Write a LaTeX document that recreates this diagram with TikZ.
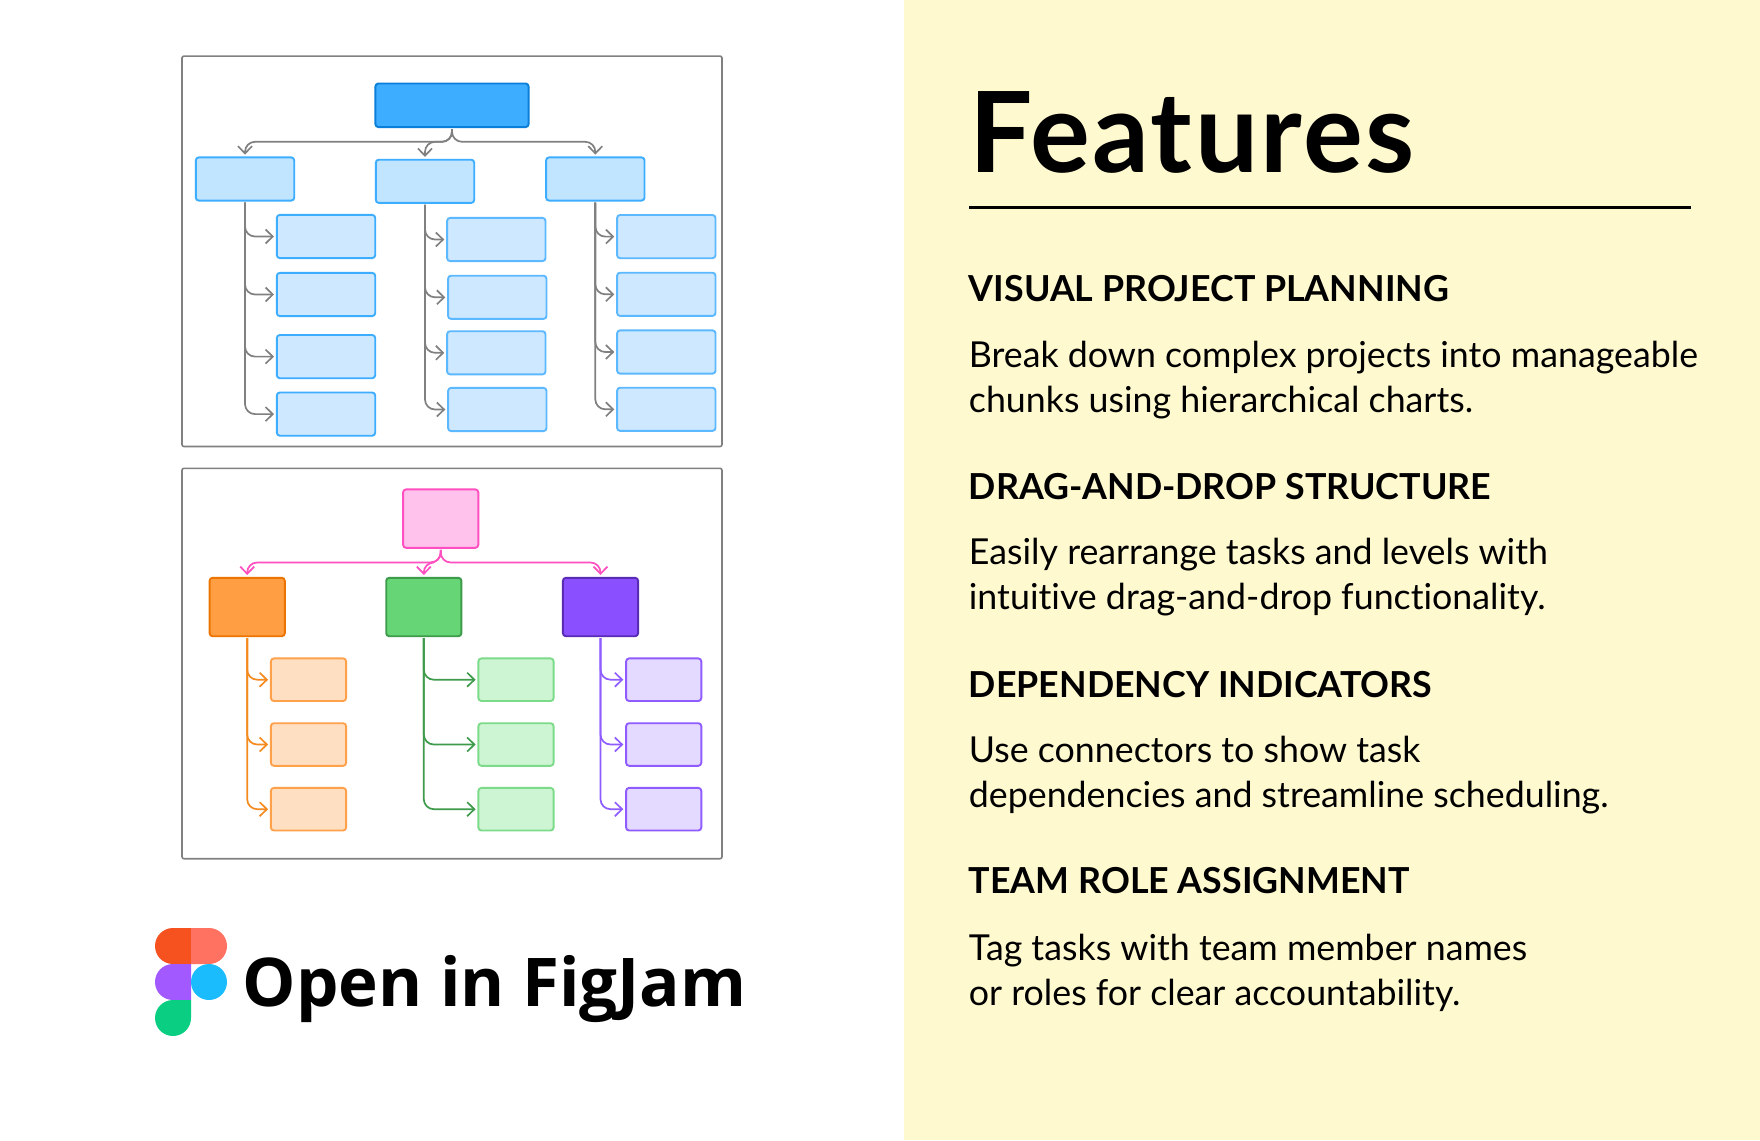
\documentclass[tikz,border=0pt]{standalone}
\usepackage{fontspec}
\setmainfont[Ligatures=NoCommon]{Lato}
\newfontfamily\logofont{Open Sans}
\newfontfamily\titlefont[LetterSpace=2.2]{Lato}
\usetikzlibrary{arrows.meta}
\definecolor{panelbg}{HTML}{FFF9D0}
\definecolor{framegray}{HTML}{808080}
\definecolor{blueroot}{HTML}{3DADFF}
\definecolor{blueedge}{HTML}{0A7FD9}
\definecolor{bluemid}{HTML}{C2E5FF}
\definecolor{bluelight}{HTML}{CDE8FF}
\definecolor{bluethin}{HTML}{5CB8FF}
\definecolor{pinkfill}{HTML}{FFC2EC}
\definecolor{pinkedge}{HTML}{FF4FC0}
\definecolor{orangefill}{HTML}{FF9E42}
\definecolor{orangeedge}{HTML}{EB7500}
\definecolor{orangelight}{HTML}{FFDFC2}
\definecolor{orangethin}{HTML}{FFA04A}
\definecolor{orangeline}{HTML}{F58A1F}
\definecolor{greenfill}{HTML}{66D575}
\definecolor{greenedge}{HTML}{3E9B4B}
\definecolor{greenlight}{HTML}{CDF4D3}
\definecolor{greenthin}{HTML}{7BDB89}
\definecolor{purplefill}{HTML}{8A50FF}
\definecolor{purpleedge}{HTML}{5A2BB5}
\definecolor{purplelight}{HTML}{E4D9FF}
\definecolor{purplethin}{HTML}{8F5CFF}
\definecolor{figred}{HTML}{F55220}
\definecolor{figcoral}{HTML}{FF7262}
\definecolor{figviolet}{HTML}{A259FF}
\definecolor{figsky}{HTML}{1ABCFE}
\definecolor{figmint}{HTML}{0ACF83}
\begin{document}
\begin{tikzpicture}[x=0.5pt,y=-0.5pt,
  box/.style={rectangle,rounded corners=1.5pt,line width=0.95pt,inner sep=0pt,outer sep=0pt},
  wide/.style={box,minimum width=49.2pt,minimum height=21.6pt},
  chief/.style={box,minimum width=76.6pt,minimum height=21.8pt},
  tall/.style={box,minimum width=37.6pt,minimum height=29.2pt},
  flat/.style={box,minimum width=37.6pt,minimum height=21.3pt},
  frame/.style={rectangle,draw=framegray,rounded corners=1pt,line width=0.8pt,inner sep=0pt,outer sep=0pt,minimum width=270pt,minimum height=195.2pt},
  flow/.style={line width=0.85pt,rounded corners=5pt,-{Straight Barb[length=3.6pt,width=7pt,line width=0.85pt]},shorten <=1pt,shorten >=1.4pt},
  head/.style={anchor=base west,inner sep=0pt,font=\fontsize{17.9}{22.5}\selectfont\bfseries},
  body/.style={anchor=base west,inner sep=0pt,align=left,font=\fontsize{17.88}{22.5}\selectfont}]
\useasboundingbox (0,0) rectangle (1760,1140);
\fill [white] (0,0) rectangle (1760,1140);
\fill [panelbg] (903.5,0) rectangle (1760,1140);

\node [frame] (top) at (452,251.3) {};
\node [frame] (bot) at (452,663.5) {};

\node [chief,fill=blueroot,draw=blueedge] (root) at (452,105.3) {};
\node [wide,fill=bluemid,draw=blueroot] (a) at (245,179) {};
\node [wide,fill=bluemid,draw=blueroot] (b) at (425,181.3) {};
\node [wide,fill=bluemid,draw=blueroot] (c) at (595.3,179) {};
\node [wide,fill=bluelight,draw=blueroot] (a1) at (326,236.5) {};
\node [wide,fill=bluelight,draw=blueroot] (a2) at (326,294.5) {};
\node [wide,fill=bluelight,draw=blueroot] (a3) at (326,356.6) {};
\node [wide,fill=bluelight,draw=blueroot] (a4) at (326,414.1) {};
\node [wide,fill=bluelight,draw=bluethin] (b1) at (496.3,239.5) {};
\node [wide,fill=bluelight,draw=bluethin] (b2) at (497.3,297.3) {};
\node [wide,fill=bluelight,draw=bluethin] (b3) at (496.3,352.8) {};
\node [wide,fill=bluelight,draw=bluethin] (b4) at (497.3,409.5) {};
\node [wide,fill=bluelight,draw=bluethin] (c1) at (666.3,236.6) {};
\node [wide,fill=bluelight,draw=bluethin] (c2) at (666.3,294.3) {};
\node [wide,fill=bluelight,draw=bluethin] (c3) at (666.3,352) {};
\node [wide,fill=bluelight,draw=bluethin] (c4) at (666.3,409.3) {};

\draw [flow,framegray] (root.south) -- ++(0,14.7) -| (a.north);
\draw [flow,framegray] (root.south) -- ++(0,14.7) -| (b.north);
\draw [flow,framegray] (root.south) -- ++(0,14.7) -| (c.north);
\draw [flow,framegray] (a.south) |- (a1.west);
\draw [flow,framegray] (a.south) |- (a2.west);
\draw [flow,framegray] (a.south) |- (a3.west);
\draw [flow,framegray] (a.south) |- (a4.west);
\draw [flow,framegray] (b.south) |- (b1.west);
\draw [flow,framegray] (b.south) |- (b2.west);
\draw [flow,framegray] (b.south) |- (b3.west);
\draw [flow,framegray] (b.south) |- (b4.west);
\draw [flow,framegray] (c.south) |- (c1.west);
\draw [flow,framegray] (c.south) |- (c2.west);
\draw [flow,framegray] (c.south) |- (c3.west);
\draw [flow,framegray] (c.south) |- (c4.west);

\node [tall,fill=pinkfill,draw=pinkedge] (pink) at (440.7,518.6) {};
\node [tall,fill=orangefill,draw=orangeedge] (o) at (247.2,607) {};
\node [tall,fill=greenfill,draw=greenedge] (g) at (423.8,607) {};
\node [tall,fill=purplefill,draw=purpleedge] (p) at (600.5,607) {};
\node [flat,fill=orangelight,draw=orangethin] (o1) at (308.5,679.7) {};
\node [flat,fill=orangelight,draw=orangethin] (o2) at (308.5,744.5) {};
\node [flat,fill=orangelight,draw=orangethin] (o3) at (308.5,809.2) {};
\node [flat,fill=greenlight,draw=greenthin] (g1) at (516,679.7) {};
\node [flat,fill=greenlight,draw=greenthin] (g2) at (516,744.5) {};
\node [flat,fill=greenlight,draw=greenthin] (g3) at (516,809.2) {};
\node [flat,fill=purplelight,draw=purplethin] (p1) at (663.7,679.7) {};
\node [flat,fill=purplelight,draw=purplethin] (p2) at (663.7,744.5) {};
\node [flat,fill=purplelight,draw=purplethin] (p3) at (663.7,809.2) {};

\draw [flow,pinkedge] (pink.south) -- ++(0,14.7) -| (o.north);
\draw [flow,pinkedge] (pink.south) -- ++(0,14.7) -| (g.north);
\draw [flow,pinkedge] (pink.south) -- ++(0,14.7) -| (p.north);
\draw [flow,orangeline] (o.south) |- (o1.west);
\draw [flow,orangeline] (o.south) |- (o2.west);
\draw [flow,orangeline] (o.south) |- (o3.west);
\draw [flow,greenedge] (g.south) |- (g1.west);
\draw [flow,greenedge] (g.south) |- (g2.west);
\draw [flow,greenedge] (g.south) |- (g3.west);
\draw [flow,purplethin] (p.south) |- (p1.west);
\draw [flow,purplethin] (p.south) |- (p2.west);
\draw [flow,purplethin] (p.south) |- (p3.west);

\fill [figred] (191,928) -- (173,928) arc (270:90:18) -- (191,964) -- cycle;
\fill [figcoral] (191,928) -- (209,928) arc (-90:90:18) -- (191,964) -- cycle;
\fill [figviolet] (191,964) -- (173,964) arc (270:90:18) -- (191,1000) -- cycle;
\fill [figsky] (209,982) circle [radius=18];
\fill [figmint] (191,1000) -- (173,1000) arc (270:90:18) arc (90:0:18) -- cycle;

\node [anchor=base west,inner sep=0pt,font=\fontsize{33.6}{36}\selectfont\logofont\bfseries] (figjam) at (242.5,1006.5) {Open in FigJam};

\node [anchor=base west,inner sep=0pt,font=\fontsize{56}{60}\selectfont\titlefont\bfseries] (title) at (969,172.7) {Features};
\coordinate (ruleL) at (969,207.7);
\coordinate (ruleR) at (1690.5,207.7);
\draw [line width=1.25pt] (ruleL) -- (ruleR);

\node [head] (h1) at (968.5,301) {VISUAL PROJECT PLANNING};
\node [body] (t1) at (968.5,412) {Break down complex projects into manageable\\chunks using hierarchical charts.};
\node [head] (h2) at (968.5,499.5) {DRAG-AND-DROP STRUCTURE};
\node [body] (t2) at (968.5,609) {Easily rearrange tasks and levels with\\intuitive drag-and-drop functionality.};
\node [head] (h3) at (968.5,697) {DEPENDENCY INDICATORS};
\node [body] (t3) at (968.5,807.5) {Use connectors to show task\\dependencies and streamline scheduling.};
\node [head] (h4) at (968.5,893.5) {TEAM ROLE ASSIGNMENT};
\node [body] (t4) at (968.5,1005) {Tag tasks with team member names\\or roles for clear accountability.};
\end{tikzpicture}
\end{document}
